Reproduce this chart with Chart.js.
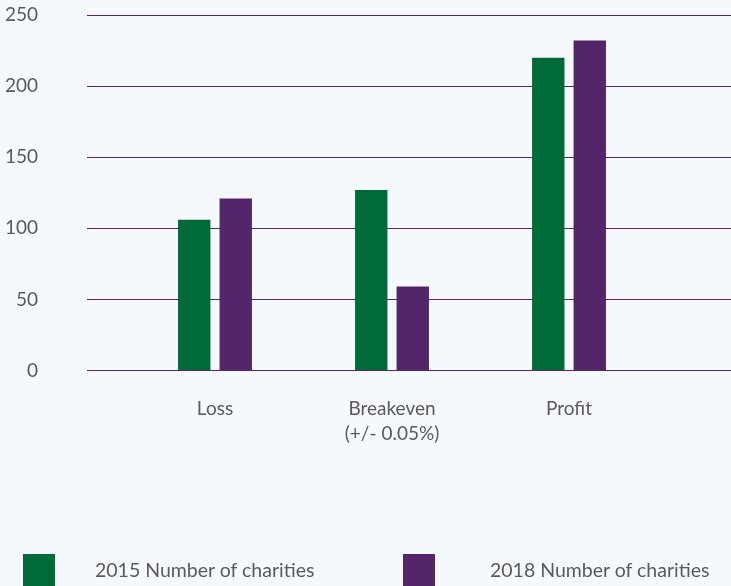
<!DOCTYPE html>
<html>
<head>
<meta charset="utf-8">
<script src="https://cdn.jsdelivr.net/npm/chart.js@4"></script>
<style>
  html, body { margin: 0; padding: 0; background: #f5f9fe; }
  #wrap { position: relative; width: 731px; height: 586px; overflow: hidden; }
  .leg { position: absolute; font-family: Lato, sans-serif; font-size: 19.5px; color: #5a5a5a; }
  .box { position: absolute; width: 32px; height: 33px; }
</style>
</head>
<body>
<div id="wrap">
  <canvas id="chart" width="731" height="586"></canvas>
  <div class="box" style="left:23px; top:554px; background:#006a38"></div>
  <div class="leg" id="leg1" style="left:95px; top:558px"></div>
  <div class="box" style="left:403px; top:554px; background:#53256b"></div>
  <div class="leg" id="leg2" style="left:490px; top:558px"></div>
</div>
<script>
// categorias y valores
const categorias = ['Loss', ['Breakeven', '(+/- 0.05%)'], 'Profit'];
const series2015 = [106, 127, 220];
const series2018 = [121, 59, 232];
const nombres = ['2015 Number of charities', '2018 Number of charities'];
const yTicks = [0, 50, 100, 150, 200, 250];

const verde = '#006a38';
const morado = '#53256b';
const gris = '#5a5a5a';

document.getElementById('leg1').textContent = nombres[0];
document.getElementById('leg2').textContent = nombres[1];

const puntos = arr => arr.map((v, i) => ({ x: i, y: v }));

new Chart(document.getElementById('chart'), {
  type: 'bar',
  data: {
    datasets: [
      { label: nombres[0], data: puntos(series2015), backgroundColor: verde },
      { label: nombres[1], data: puntos(series2018), backgroundColor: morado }
    ]
  },
  options: {
    responsive: false,
    animation: false,
    barPercentage: 0.78,
    categoryPercentage: 0.469,
    layout: { padding: { top: 15, bottom: 0, left: 0, right: 0 } },
    plugins: { legend: { display: false }, tooltip: { enabled: false } },
    scales: {
      x: {
        type: 'linear',
        offset: false,
        min: -0.723,
        max: 2.915,
        afterFit: s => {
          s.height = 215.5;
          s.paddingLeft = 0;
          s.paddingRight = 0;
        },
        afterBuildTicks: s => { s.ticks = categorias.map((c, i) => ({ value: i })); },
        grid: { display: false, drawTicks: false },
        border: { color: morado },
        ticks: {
          autoSkip: false,
          maxRotation: 0,
          padding: 26,
          color: gris,
          font: { family: 'Lato', size: 19, lineHeight: 1.3 },
          callback: (v, i) => categorias[i]
        }
      },
      y: {
        min: 0,
        max: 250,
        afterFit: s => {
          s.width = 87;
          s.paddingTop = 0;
          s.paddingBottom = 0;
        },
        grid: { color: morado, lineWidth: 1, drawTicks: false },
        border: { display: false },
        afterBuildTicks: s => { s.ticks = yTicks.map(v => ({ value: v })); },
        ticks: {
          padding: 49,
          color: gris,
          font: { family: 'Lato', size: 19 }
        }
      }
    }
  }
});
</script>
</body>
</html>
